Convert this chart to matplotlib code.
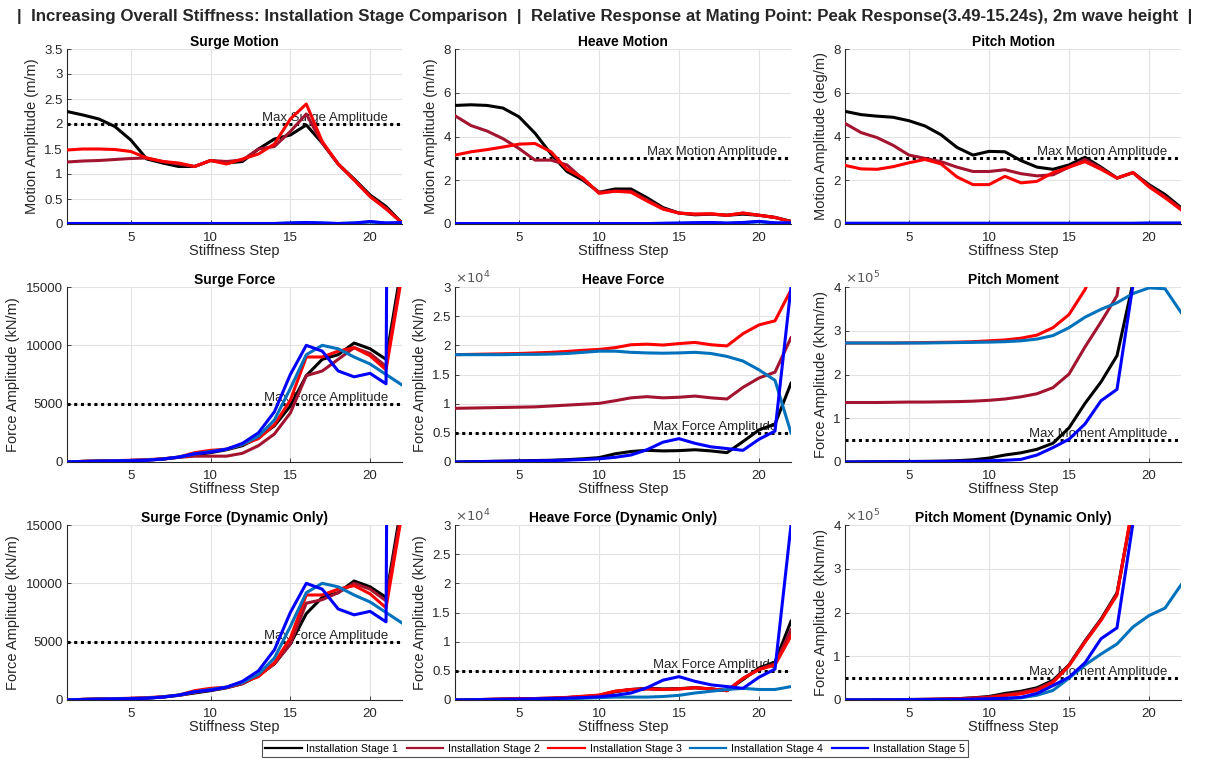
import matplotlib
matplotlib.use("Agg")
import matplotlib.pyplot as plt
from matplotlib.ticker import FuncFormatter, FixedLocator

plt.rcParams['font.family'] = ['Liberation Sans', 'DejaVu Sans']

steps = list(range(1, 23))
stage_labels = ["Installation Stage 1", "Installation Stage 2", "Installation Stage 3",
                "Installation Stage 4", "Installation Stage 5"]
stage_colors = ['#000000', '#A2142F', '#FF0000', '#0072BD', '#0000FF']

# ---- Surge Motion (m/m)
surge_motion_s1 = [2.25, 2.18, 2.10, 1.95, 1.68, 1.30, 1.22, 1.15, 1.15, 1.27, 1.22, 1.25, 1.50, 1.70, 1.78, 1.98, 1.62, 1.20, 0.90, 0.58, 0.35, 0.02]
surge_motion_s2 = [1.24, 1.26, 1.27, 1.29, 1.31, 1.32, 1.25, 1.20, 1.15, 1.27, 1.25, 1.28, 1.50, 1.55, 1.85, 2.20, 1.62, 1.20, 0.88, 0.55, 0.32, 0.02]
surge_motion_s3 = [1.48, 1.50, 1.50, 1.49, 1.45, 1.32, 1.25, 1.22, 1.15, 1.27, 1.20, 1.30, 1.40, 1.60, 2.10, 2.40, 1.65, 1.20, 0.88, 0.55, 0.30, 0.02]
surge_motion_s4 = [0.01, 0.01, 0.01, 0.01, 0.01, 0.01, 0.01, 0.01, 0.01, 0.01, 0.01, 0.01, 0.01, 0.01, 0.02, 0.03, 0.02, 0.01, 0.02, 0.04, 0.02, 0.02]
surge_motion_s5 = [0.01, 0.01, 0.01, 0.01, 0.01, 0.01, 0.01, 0.01, 0.01, 0.01, 0.01, 0.01, 0.01, 0.01, 0.02, 0.03, 0.02, 0.01, 0.02, 0.05, 0.02, 0.03]

# ---- Heave Motion (m/m)
heave_motion_s1 = [5.42, 5.45, 5.42, 5.30, 4.90, 4.15, 3.20, 2.40, 2.00, 1.45, 1.60, 1.60, 1.20, 0.75, 0.50, 0.42, 0.45, 0.40, 0.45, 0.40, 0.30, 0.12]
heave_motion_s2 = [4.95, 4.50, 4.25, 3.90, 3.45, 2.92, 2.92, 2.70, 2.05, 1.45, 1.50, 1.50, 1.10, 0.70, 0.50, 0.45, 0.45, 0.40, 0.50, 0.40, 0.30, 0.12]
heave_motion_s3 = [3.15, 3.30, 3.40, 3.52, 3.65, 3.68, 3.30, 2.50, 2.10, 1.40, 1.50, 1.45, 1.05, 0.68, 0.50, 0.45, 0.47, 0.40, 0.50, 0.40, 0.30, 0.10]
heave_motion_s4 = [0.02, 0.02, 0.02, 0.02, 0.02, 0.02, 0.02, 0.02, 0.02, 0.02, 0.02, 0.02, 0.02, 0.03, 0.04, 0.05, 0.06, 0.04, 0.06, 0.10, 0.05, 0.04]
heave_motion_s5 = [0.02, 0.02, 0.02, 0.02, 0.02, 0.02, 0.02, 0.02, 0.02, 0.02, 0.02, 0.02, 0.02, 0.03, 0.04, 0.06, 0.07, 0.04, 0.07, 0.12, 0.05, 0.05]

# ---- Pitch Motion (deg/m)
pitch_motion_s1 = [5.15, 5.00, 4.93, 4.88, 4.72, 4.48, 4.08, 3.50, 3.15, 3.32, 3.30, 2.90, 2.60, 2.50, 2.70, 3.05, 2.60, 2.10, 2.35, 1.80, 1.35, 0.75]
pitch_motion_s2 = [4.60, 4.18, 3.95, 3.60, 3.15, 3.00, 2.85, 2.60, 2.40, 2.40, 2.48, 2.30, 2.20, 2.25, 2.60, 2.95, 2.55, 2.10, 2.35, 1.75, 1.25, 0.70]
pitch_motion_s3 = [2.68, 2.52, 2.50, 2.62, 2.80, 2.95, 2.75, 2.15, 1.80, 1.80, 2.18, 1.88, 1.95, 2.35, 2.60, 2.85, 2.50, 2.10, 2.35, 1.70, 1.20, 0.65]
pitch_motion_s4 = [0.03, 0.03, 0.03, 0.03, 0.03, 0.03, 0.03, 0.03, 0.03, 0.03, 0.03, 0.03, 0.03, 0.03, 0.03, 0.03, 0.03, 0.03, 0.03, 0.04, 0.04, 0.04]
pitch_motion_s5 = [0.03, 0.03, 0.03, 0.03, 0.03, 0.03, 0.03, 0.03, 0.03, 0.03, 0.03, 0.03, 0.03, 0.03, 0.03, 0.03, 0.03, 0.03, 0.03, 0.04, 0.04, 0.04]

# ---- Surge Force (kN/m)
surge_force_s1 = [0, 50, 80, 100, 130, 170, 250, 400, 600, 800, 1050, 1400, 2100, 3100, 4800, 7400, 8800, 9200, 10200, 9700, 8800, 17000]
surge_force_s2 = [0, 50, 80, 100, 130, 170, 250, 400, 500, 500, 500, 750, 1400, 2400, 4200, 7400, 7800, 8800, 9800, 9300, 8200, 16500]
surge_force_s3 = [0, 60, 90, 120, 150, 200, 280, 420, 800, 1000, 1100, 1500, 2000, 3200, 5300, 9000, 9000, 9500, 9800, 9100, 7900, 16000]
surge_force_s4 = [0, 50, 80, 100, 130, 170, 260, 420, 700, 900, 1100, 1500, 2200, 3600, 6300, 9200, 10000, 9700, 9000, 8400, 7500, 6600]
surge_force_s5 = [0, 40, 70, 90, 110, 150, 250, 420, 700, 850, 1100, 1600, 2500, 4300, 7500, 10000, 9500, 7800, 7300, 7600, 6700, 250000]

# ---- Surge Force, dynamic only (kN/m)
surge_dyn_s1 = [0, 50, 80, 100, 130, 170, 250, 400, 600, 800, 1050, 1400, 2100, 3100, 4800, 7400, 8800, 9200, 10200, 9700, 8800, 17000]
surge_dyn_s2 = [0, 50, 80, 100, 130, 170, 250, 400, 650, 850, 1050, 1400, 2100, 3100, 4800, 8300, 8600, 9200, 10000, 9500, 8500, 16500]
surge_dyn_s3 = [0, 60, 90, 120, 150, 200, 280, 420, 800, 1000, 1100, 1500, 2000, 3200, 5300, 9000, 9000, 9500, 9800, 9100, 7900, 16000]
surge_dyn_s4 = [0, 50, 80, 100, 130, 170, 260, 420, 700, 900, 1100, 1500, 2200, 3600, 6300, 9200, 10000, 9700, 9000, 8400, 7500, 6600]
surge_dyn_s5 = [0, 40, 70, 90, 110, 150, 250, 420, 700, 850, 1100, 1600, 2500, 4300, 7500, 10000, 9500, 7800, 7300, 7600, 6700, 250000]

# ---- Heave Force (kN/m)
heave_force_s1 = [0, 50, 100, 150, 200, 250, 300, 400, 550, 750, 1400, 1800, 2000, 1900, 1950, 2100, 1900, 1600, 3500, 5500, 6500, 13500]
heave_force_s2 = [9200, 9250, 9300, 9350, 9400, 9450, 9600, 9750, 9900, 10050, 10500, 11000, 11200, 11000, 11100, 11300, 11000, 10800, 12800, 14400, 15400, 21300]
heave_force_s3 = [18400, 18450, 18500, 18550, 18600, 18700, 18800, 18950, 19150, 19300, 19600, 20100, 20200, 20050, 20300, 20500, 20100, 19900, 22000, 23500, 24200, 29500]
heave_force_s4 = [18400, 18400, 18400, 18400, 18450, 18450, 18500, 18600, 18800, 19000, 19000, 18800, 18700, 18650, 18700, 18800, 18600, 18100, 17300, 15800, 14000, 5000]
heave_force_s5 = [0, 40, 80, 120, 160, 200, 250, 320, 420, 550, 800, 1200, 2100, 3400, 4000, 3200, 2600, 2300, 2000, 3900, 5300, 30000]

# ---- Heave Force, dynamic only (kN/m)
heave_dyn_s1 = [0, 50, 100, 150, 200, 250, 300, 400, 550, 750, 1400, 1800, 2000, 1900, 1950, 2100, 1900, 1600, 3500, 5500, 6500, 13500]
heave_dyn_s2 = [0, 50, 100, 150, 200, 250, 300, 420, 600, 800, 1500, 1800, 1900, 1800, 1900, 2100, 1900, 1600, 3700, 5300, 6200, 12000]
heave_dyn_s3 = [0, 50, 100, 150, 200, 250, 320, 450, 650, 850, 1500, 1800, 1900, 1800, 1900, 2100, 1900, 1600, 3700, 5200, 6000, 11000]
heave_dyn_s4 = [0, 20, 40, 60, 80, 100, 150, 200, 300, 400, 500, 500, 500, 600, 800, 1200, 1500, 1800, 2000, 1800, 1800, 2300]
heave_dyn_s5 = [0, 40, 80, 120, 160, 200, 250, 320, 420, 550, 800, 1200, 2100, 3400, 4000, 3200, 2600, 2300, 2000, 3900, 5300, 30000]

# ---- Pitch Moment (kNm/m)
pitch_mom_s1 = [0, 300, 600, 900, 1200, 1500, 2000, 3000, 5000, 9000, 16000, 21000, 29000, 43000, 78000, 134000, 183000, 243000, 410000, 600000, 800000, 1000000]
pitch_mom_s2 = [136000, 136000, 136000, 136500, 137000, 137000, 137500, 138000, 139000, 141000, 144000, 149000, 156000, 170000, 201000, 263000, 320000, 380000, 630000, 750000, 850000, 950000]
pitch_mom_s3 = [272000, 272000, 272000, 272000, 272500, 273000, 273500, 274000, 275000, 277000, 279000, 283000, 290000, 307000, 337000, 394000, 480000, 560000, 650000, 750000, 850000, 950000]
pitch_mom_s4 = [272000, 272000, 272000, 272000, 272000, 272000, 272500, 273000, 273500, 274000, 275000, 277000, 281000, 289000, 307000, 331000, 349000, 364000, 385000, 398000, 396000, 342000]
pitch_mom_s5 = [0, 200, 400, 600, 800, 1000, 1300, 1600, 2000, 2800, 4000, 6000, 16000, 33000, 52000, 87000, 140000, 166000, 405000, 600000, 800000, 1000000]

# ---- Pitch Moment, dynamic only (kNm/m)
pitch_dyn_s1 = [0, 300, 600, 900, 1200, 1500, 2000, 3000, 5000, 8000, 15000, 20000, 28000, 45000, 80000, 135000, 185000, 245000, 440000, 650000, 800000, 1000000]
pitch_dyn_s2 = [0, 250, 500, 800, 1100, 1400, 1900, 2800, 4500, 7000, 12000, 17000, 25000, 42000, 80000, 134000, 183000, 243000, 445000, 650000, 800000, 1000000]
pitch_dyn_s3 = [0, 200, 400, 700, 1000, 1300, 1800, 2600, 4000, 5000, 10000, 14000, 22000, 40000, 78000, 132000, 182000, 240000, 450000, 650000, 800000, 1000000]
pitch_dyn_s4 = [0, 100, 200, 300, 400, 500, 700, 900, 1200, 1800, 3000, 5000, 11000, 22000, 50000, 80000, 105000, 128000, 167000, 193000, 210000, 263000]
pitch_dyn_s5 = [0, 200, 400, 600, 800, 1000, 1300, 1600, 2000, 2800, 4000, 6000, 15000, 33000, 52000, 85000, 140000, 165000, 405000, 600000, 800000, 1000000]

panels = [
    ("Surge Motion", "Motion Amplitude (m/m)", [surge_motion_s1, surge_motion_s2, surge_motion_s3, surge_motion_s4, surge_motion_s5],
     3.5, [0, 0.5, 1, 1.5, 2, 2.5, 3, 3.5], 1, 2.0, "Max Surge Amplitude"),
    ("Heave Motion", "Motion Amplitude (m/m)", [heave_motion_s1, heave_motion_s2, heave_motion_s3, heave_motion_s4, heave_motion_s5],
     8, [0, 2, 4, 6, 8], 1, 3.0, "Max Motion Amplitude"),
    ("Pitch Motion", "Motion Amplitude (deg/m)", [pitch_motion_s1, pitch_motion_s2, pitch_motion_s3, pitch_motion_s4, pitch_motion_s5],
     8, [0, 2, 4, 6, 8], 1, 3.0, "Max Motion Amplitude"),
    ("Surge Force", "Force Amplitude (kN/m)", [surge_force_s1, surge_force_s2, surge_force_s3, surge_force_s4, surge_force_s5],
     15000, [0, 5000, 10000, 15000], 1, 5000, "Max Force Amplitude"),
    ("Heave Force", "Force Amplitude (kN/m)", [heave_force_s1, heave_force_s2, heave_force_s3, heave_force_s4, heave_force_s5],
     30000, [0, 5000, 10000, 15000, 20000, 25000, 30000], 1e4, 5000, "Max Force Amplitude"),
    ("Pitch Moment", "Force Amplitude (kNm/m)", [pitch_mom_s1, pitch_mom_s2, pitch_mom_s3, pitch_mom_s4, pitch_mom_s5],
     400000, [0, 100000, 200000, 300000, 400000], 1e5, 50000, "Max Moment Amplitude"),
    ("Surge Force (Dynamic Only)", "Force Amplitude (kN/m)", [surge_dyn_s1, surge_dyn_s2, surge_dyn_s3, surge_dyn_s4, surge_dyn_s5],
     15000, [0, 5000, 10000, 15000], 1, 5000, "Max Force Amplitude"),
    ("Heave Force (Dynamic Only)", "Force Amplitude (kN/m)", [heave_dyn_s1, heave_dyn_s2, heave_dyn_s3, heave_dyn_s4, heave_dyn_s5],
     30000, [0, 5000, 10000, 15000, 20000, 25000, 30000], 1e4, 5000, "Max Force Amplitude"),
    ("Pitch Moment (Dynamic Only)", "Force Amplitude (kNm/m)", [pitch_dyn_s1, pitch_dyn_s2, pitch_dyn_s3, pitch_dyn_s4, pitch_dyn_s5],
     400000, [0, 100000, 200000, 300000, 400000], 1e5, 50000, "Max Moment Amplitude"),
]

W, H = 1210, 764
fig = plt.figure(figsize=(W / 100, H / 100), dpi=100)
fig.patch.set_facecolor('white')

col_left = [67, 455, 845]
col_width = [335, 336, 336]
row_top = [49, 287, 525]
ax_height = 175
txtc = '#262626'

lines_for_legend = None
for i, (title, ylabel, series, ymax, yticks, scale, limit, limlabel) in enumerate(panels):
    r, c = divmod(i, 3)
    left = col_left[c] / W
    bottom = 1 - (row_top[r] + ax_height) / H
    ax = fig.add_axes([left, bottom, col_width[c] / W, ax_height / H])
    hs = []
    for k, s in enumerate(series):
        h, = ax.plot(steps, s, color=stage_colors[k], lw=2.2, label=stage_labels[k], zorder=3 + k * 0.01)
        hs.append(h)
    lines_for_legend = hs
    ax.axhline(limit, color='black', lw=2.2, linestyle=(0, (1, 1.2)), zorder=2.5)
    ax.annotate(limlabel, xy=(1, limit), xycoords=('axes fraction', 'data'),
                xytext=(-10, 0), textcoords='offset points', ha='right', va='bottom',
                fontsize=9.5, color=txtc, zorder=2)
    ax.set_xlim(1, 22)
    ax.set_ylim(0, ymax)
    ax.xaxis.set_major_locator(FixedLocator([5, 10, 15, 20]))
    ax.yaxis.set_major_locator(FixedLocator(yticks))
    ax.yaxis.set_major_formatter(FuncFormatter(lambda v, p, sc=scale: f"{v / sc:g}"))
    if scale != 1:
        exp = 4 if scale == 1e4 else 5
        ax.text(0.0, 1.005, r"$\times10^{%d}$" % exp, transform=ax.transAxes, ha='left', va='bottom',
                fontsize=9.5, color='#555555')
    ax.grid(True, color='#e2e2e2', lw=0.8)
    ax.set_axisbelow(True)
    for sp in ['top', 'right']:
        ax.spines[sp].set_visible(False)
    for sp in ['left', 'bottom']:
        ax.spines[sp].set_color(txtc)
        ax.spines[sp].set_linewidth(0.8)
    ax.tick_params(direction='in', length=3, width=0.6, labelsize=9.5, colors=txtc)
    ax.tick_params(axis='x', pad=6)
    ax.tick_params(axis='y', pad=3)
    ax.set_xlabel("Stiffness Step", fontsize=10.5, color=txtc, labelpad=0)
    ax.set_ylabel(ylabel, fontsize=10.5, color=txtc, labelpad=4)
    ax.set_title(title, fontsize=10, fontweight='bold', color='black', pad=2)

fig.text(0.5, 1 - 16 / H,
         "|  Increasing Overall Stiffness: Installation Stage Comparison  |  Relative Response at Mating Point: Peak Response(3.49-15.24s), 2m wave height  |",
         ha='center', va='center', fontsize=12.2, fontweight='bold', color=txtc)

leg = fig.legend(lines_for_legend, stage_labels, loc='center', ncol=5,
                 bbox_to_anchor=(615 / W, 1 - 748.5 / H), fontsize=7.7, frameon=True,
                 fancybox=False, handlelength=3.4, columnspacing=0.8, handletextpad=0.45,
                 borderpad=0.35, borderaxespad=0)
leg.get_frame().set_edgecolor(txtc)
leg.get_frame().set_linewidth(0.8)
for lh in leg.get_lines():
    lh.set_linewidth(1.6)

fig.savefig("out.png", dpi=100, facecolor='white')
